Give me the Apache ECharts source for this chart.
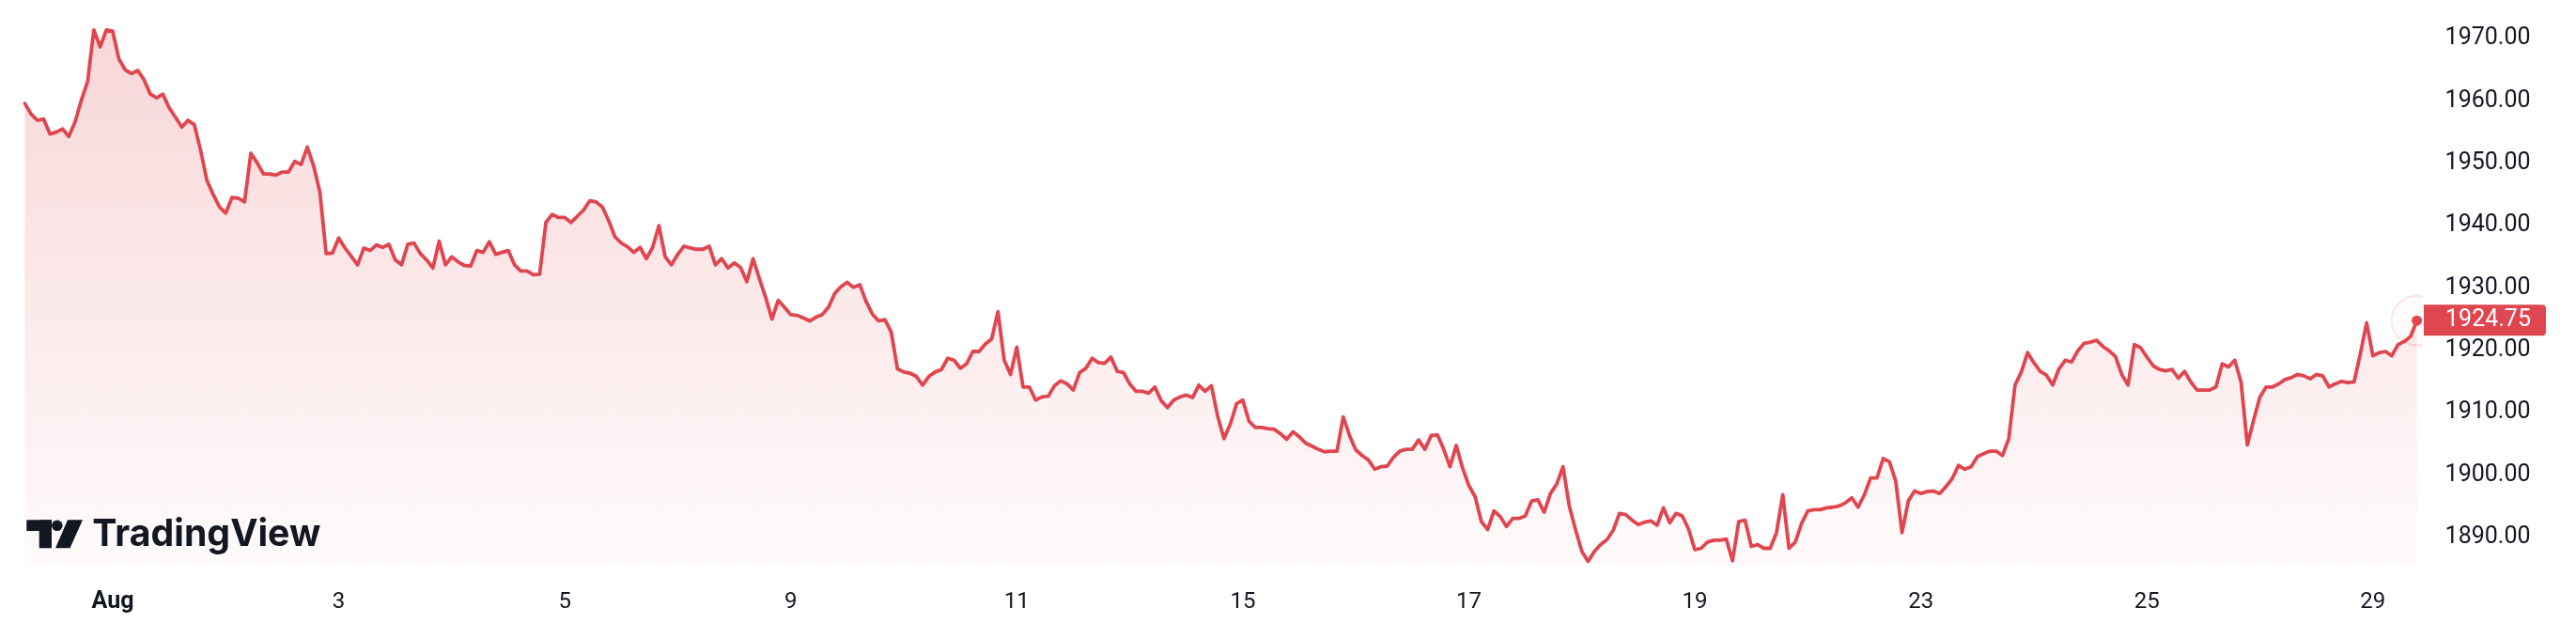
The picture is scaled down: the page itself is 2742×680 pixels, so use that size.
<!DOCTYPE html>
<html>
<head>
<meta charset="utf-8">
<script src="https://cdn.jsdelivr.net/npm/echarts@6/dist/echarts.min.js"></script>
<style>
html,body{margin:0;padding:0;background:#ffffff;}
#chart{width:2742px;height:680px;}
</style>
</head>
<body>
<div id="chart"></div>
<script>
// ---- data ----
const prices = [
1959.6,1957.9,1956.9,1957.1,1954.7,1955.0,1955.5,1954.3,1956.6,1960.1,
1963.1,1971.4,1968.7,1971.4,1971.2,1966.7,1965.0,1964.4,1964.9,1963.4,
1961.1,1960.5,1961.1,1958.9,1957.4,1955.8,1956.9,1956.2,1952.1,1947.3,
1945.0,1943.0,1942.0,1944.5,1944.4,1943.8,1951.6,1950.1,1948.3,1948.3,
1948.1,1948.6,1948.6,1950.3,1949.8,1952.6,1949.6,1945.4,1935.5,1935.6,
1938.0,1936.4,1935.1,1933.7,1936.4,1936.0,1936.9,1936.5,1937.0,1934.5,
1933.7,1937.0,1937.2,1935.5,1934.5,1933.2,1937.5,1933.7,1935.0,1934.2,
1933.6,1933.5,1936.0,1935.7,1937.4,1935.4,1935.7,1936.0,1933.7,1932.7,
1932.7,1932.1,1932.2,1940.5,1941.8,1941.3,1941.3,1940.5,1941.5,1942.5,
1944.0,1943.8,1943.0,1940.8,1938.2,1937.2,1936.6,1935.7,1936.5,1934.7,
1936.5,1940.0,1935.0,1933.7,1935.4,1936.7,1936.4,1936.2,1936.2,1936.7,
1933.7,1934.7,1933.2,1934.0,1933.3,1931.0,1934.7,1931.5,1928.5,1925.0,
1928.0,1926.9,1925.7,1925.6,1925.2,1924.7,1925.3,1925.7,1926.9,1929.1,
1930.2,1930.9,1930.1,1930.5,1927.8,1925.8,1924.7,1924.9,1922.9,1917.0,
1916.5,1916.3,1915.8,1914.4,1915.8,1916.5,1916.9,1918.7,1918.4,1917.1,
1917.8,1919.8,1919.8,1921.0,1921.8,1926.2,1918.4,1916.1,1920.5,1914.1,
1914.1,1912.0,1912.5,1912.6,1914.3,1915.1,1914.6,1913.6,1916.4,1917.1,
1918.7,1918.0,1917.9,1918.9,1916.6,1916.4,1914.6,1913.4,1913.4,1913.1,
1914.1,1911.9,1910.8,1912.0,1912.5,1912.8,1912.4,1914.4,1913.4,1914.3,
1909.4,1905.8,1908.1,1911.4,1912.0,1908.6,1907.6,1907.6,1907.4,1907.3,
1906.6,1905.7,1906.9,1906.1,1905.1,1904.6,1904.1,1903.7,1903.8,1903.8,
1909.3,1906.3,1904.0,1903.1,1902.4,1900.9,1901.3,1901.4,1902.8,1903.8,
1904.1,1904.1,1905.6,1904.1,1906.3,1906.4,1904.1,1901.3,1904.7,1901.1,
1898.3,1896.5,1892.5,1891.2,1894.2,1893.3,1891.7,1893.0,1893.0,1893.4,
1895.8,1896.0,1894.0,1897.0,1898.5,1901.3,1895.0,1891.2,1887.7,1886.1,
1887.7,1888.8,1889.6,1891.1,1893.8,1893.6,1892.7,1892.0,1892.4,1892.6,
1891.9,1894.7,1892.3,1893.8,1893.4,1891.3,1888.0,1888.2,1889.2,1889.5,
1889.5,1889.7,1886.2,1892.5,1892.7,1888.5,1888.8,1888.2,1888.2,1890.7,
1896.8,1888.2,1889.2,1892.2,1894.2,1894.4,1894.4,1894.7,1894.8,1895.0,
1895.5,1896.3,1894.8,1896.8,1899.5,1899.5,1902.6,1902.1,1899.0,1890.7,
1895.8,1897.4,1897.0,1897.3,1897.4,1897.0,1898.1,1899.4,1901.5,1900.9,
1901.3,1902.9,1903.4,1903.8,1903.8,1903.1,1905.8,1914.4,1916.5,1919.6,
1918.0,1916.6,1916.0,1914.4,1917.0,1918.4,1918.1,1919.9,1921.1,1921.3,
1921.6,1920.6,1919.9,1919.0,1916.1,1914.4,1920.9,1920.4,1918.9,1917.5,
1916.9,1916.7,1916.9,1915.5,1916.6,1914.9,1913.6,1913.6,1913.6,1914.1,
1917.8,1917.3,1918.4,1914.9,1904.8,1908.8,1912.5,1914.1,1914.1,1914.6,
1915.3,1915.6,1916.1,1915.9,1915.4,1916.1,1915.9,1914.1,1914.6,1915.0,
1914.8,1914.9,1919.4,1924.4,1919.1,1919.6,1919.8,1919.1,1920.9,1921.4,
1922.2,1924.75
];
const xTickIndex = [14, 50, 86, 122, 158, 194, 230, 266, 302, 338, 374];
const xTickLabels = ['Aug', '3', '5', '9', '11', '15', '17', '19', '23', '25', '29'];
const yTicks = [1890, 1900, 1910, 1920, 1930, 1940, 1950, 1960, 1970];
const lastPrice = prices[prices.length - 1];

// ---- build ----
const categories = prices.map((_, i) => String(i));
const labelAt = {};
xTickIndex.forEach((idx, k) => { labelAt[idx] = xTickLabels[k]; });

const RED = '#e0464f';
const TEXT = '#131722';
const FONT = 'Roboto, "Noto Sans", sans-serif';

const mctx = document.createElement('canvas').getContext('2d');
mctx.font = '700 40px Inter';
const logoW = mctx.measureText('TradingView').width || 243;
const logoScale = 243 / logoW;

const lastIdx = prices.length - 1;

const chart = echarts.init(document.getElementById('chart'), null, {renderer: 'canvas'});
chart.setOption({
  animation: false,
  backgroundColor: '#ffffff',
  grid: {left: 26.4, top: 0, width: 2546.2, height: 602, containLabel: false},
  xAxis: {
    type: 'category',
    data: categories,
    boundaryGap: false,
    axisLine: {show: false},
    axisTick: {show: false},
    splitLine: {show: false},
    axisLabel: {
      interval: (idx) => labelAt[idx] !== undefined,
      formatter: (v) => {
        const t = labelAt[+v];
        if (t === undefined) return '';
        return t === 'Aug' ? '{b|' + t + '}' : t;
      },
      margin: 27,
      color: TEXT,
      fontFamily: FONT,
      fontSize: 24,
      lineHeight: 24,
      rich: {b: {fontWeight: 700, fontSize: 25, color: TEXT, fontFamily: FONT, lineHeight: 24}}
    }
  },
  yAxis: {
    type: 'value',
    position: 'right',
    min: 1885.41,
    max: 1976.21,
    axisLine: {show: false},
    axisTick: {show: false},
    splitLine: {show: false},
    axisLabel: {
      customValues: yTicks,
      formatter: (v) => Number(v).toFixed(2),
      align: 'left',
      margin: 30,
      color: TEXT,
      fontFamily: FONT,
      fontSize: 25
    }
  },
  series: [{
    type: 'line',
    data: prices,
    symbol: 'none',
    smooth: false,
    lineStyle: {color: RED, width: 3.8, join: 'round', cap: 'round'},
    areaStyle: {
      origin: 'start',
      color: new echarts.graphic.LinearGradient(0, 0, 0, 1, [
        {offset: 0, color: 'rgba(224,70,79,0.31)'},
        {offset: 1, color: 'rgba(224,70,79,0.03)'}
      ])
    },
    markPoint: {
      silent: true,
      animation: false,
      data: [
        {coord: [lastIdx, lastPrice],
         symbol: 'path://M6,-26.3 A27,27 0 1,0 6,26.3',
         symbolSize: [33, 52.6], symbolOffset: [-10.5, 0],
         itemStyle: {color: 'rgba(224,70,79,0.025)', borderColor: 'rgba(224,70,79,0.14)', borderWidth: 2},
         label: {show: false}},
        {coord: [lastIdx, lastPrice], symbol: 'circle', symbolSize: 11,
         itemStyle: {color: RED}, label: {show: false}},
        {coord: [lastIdx, lastPrice],
         symbol: 'path://M0,0 H126 Q130,0 130,4 V29 Q130,33 126,33 H0 Z',
         symbolSize: [130, 33], symbolOffset: [72.4, -0.5],
         itemStyle: {color: RED},
         label: {show: true, position: 'inside', offset: [3.5, 0], formatter: lastPrice.toFixed(2),
                 color: '#ffffff', fontFamily: FONT, fontSize: 25}}
      ]
    }
  }],
  graphic: [
    {type: 'rect', shape: {x: 28.3, y: 553.3, width: 26.7, height: 11.7}, style: {fill: TEXT}, z: 100},
    {type: 'rect', shape: {x: 41.7, y: 553.3, width: 13.3, height: 30}, style: {fill: TEXT}, z: 100},
    {type: 'circle', shape: {cx: 60.8, cy: 559.3, r: 5.8}, style: {fill: TEXT}, z: 100},
    {type: 'polygon', shape: {points: [[72, 553.3], [88, 553.3], [74.5, 583.3], [59, 583.3]]}, style: {fill: TEXT}, z: 100},
    {type: 'text', x: 98.3, y: 568.5, scaleX: logoScale, z: 100,
     style: {text: 'TradingView', x: 0, y: 0, fill: TEXT, font: '700 40px Inter', verticalAlign: 'middle', align: 'left'}}
  ]
});
</script>
</body>
</html>
